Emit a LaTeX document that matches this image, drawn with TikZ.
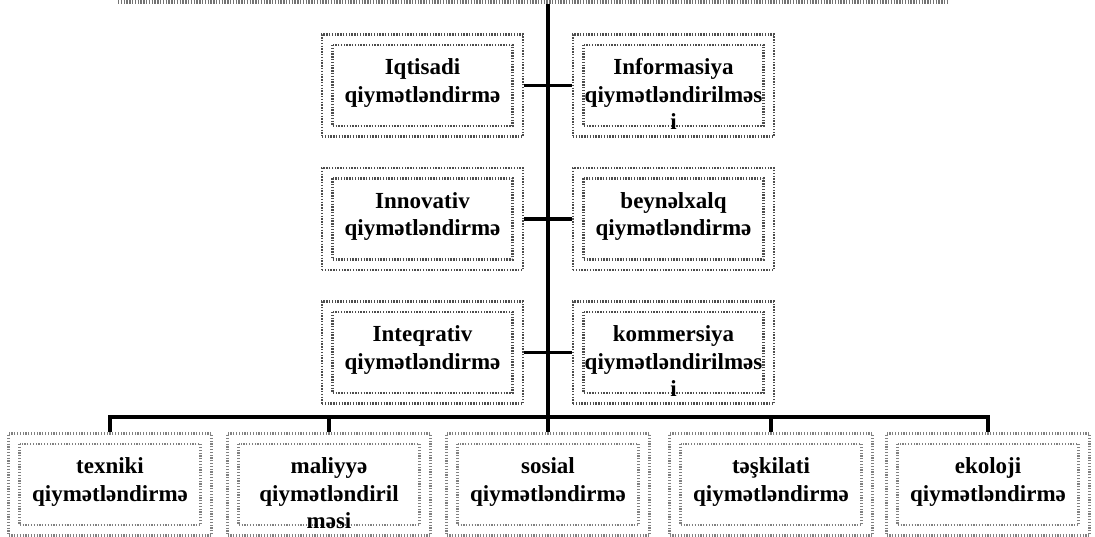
\documentclass[tikz,border=0pt]{standalone}
\usepackage{fontspec}
\setmainfont{Liberation Serif}
\newcommand\boxtxt[1]{\parbox[c][102pt][t]{201pt}{\centering\vspace*{21pt}\strut#1\par}}
\begin{document}
\begin{tikzpicture}[x=1pt,y=-1pt,
  topbox/.style={draw=black!70, line width=2.8pt, dash pattern=on 1.4pt off 1.4pt,
    inner sep=0pt, minimum width=201pt, minimum height=102pt,
    font=\fontsize{23}{27.5}\selectfont\bfseries,
    path picture={\draw[black!70, line width=2.8pt, dash pattern=on 1.4pt off 1.4pt]
      ([shift={(10.5pt,-10.5pt)}]path picture bounding box.north west) rectangle
      ([shift={(-10.5pt,10.5pt)}]path picture bounding box.south east);}},
  botbox/.style={draw=black!50, line width=2.4pt, dash pattern=on 1.2pt off 1.6pt,
    inner sep=0pt, minimum width=203pt, minimum height=102pt,
    font=\fontsize{23}{27.5}\selectfont\bfseries,
    path picture={\draw[black!50, line width=2.4pt, dash pattern=on 1.2pt off 1.6pt]
      ([shift={(11pt,-10.5pt)}]path picture bounding box.north west) rectangle
      ([shift={(-11pt,10.5pt)}]path picture bounding box.south east);}},
  conn/.style={line width=3.5pt, black},
  edgeline/.style={draw=black!55, line width=4pt, dash pattern=on 1.4pt off 1.4pt}
]
\useasboundingbox (0,0) rectangle (1095,537);
\fill[white] (0,0) rectangle (1095,537);

\draw[edgeline] (118,2) -- (948,2);
\coordinate (top) at (548,4);

\node[topbox] (iqt) at (422.5,85.5) {\boxtxt{Iqtisadi\\qiymətləndirmə}};
\node[topbox] (inf) at (673.5,85.5) {\boxtxt{Informasiya\\qiymətləndirilməs\\i}};
\node[topbox] (inn) at (422.5,219) {\boxtxt{Innovativ\\qiymətləndirmə}};
\node[topbox] (bey) at (673.5,219) {\boxtxt{beynəlxalq\\qiymətləndirmə}};
\node[topbox] (int) at (422.5,352.5) {\boxtxt{Inteqrativ\\qiymətləndirmə}};
\node[topbox] (kom) at (673.5,352.5) {\boxtxt{kommersiya\\qiymətləndirilməs\\i}};

\node[botbox] (tex) at (110,484.5) {\boxtxt{texniki\\qiymətləndirmə}};
\node[botbox] (mal) at (329,484.5) {\boxtxt{maliyyə\\qiymətləndiril\\məsi}};
\node[botbox] (sos) at (548,484.5) {\boxtxt{sosial\\qiymətləndirmə}};
\node[botbox] (tas) at (771,484.5) {\boxtxt{təşkilati\\qiymətləndirmə}};
\node[botbox] (eko) at (988,484.5) {\boxtxt{ekoloji\\qiymətləndirmə}};

\coordinate (bus) at (548,417);

\draw[conn] (top) -- (sos.north);
\draw[conn] (iqt.east) -- (iqt.east -| top);
\draw[conn] (inn.east) -- (inn.east -| top);
\draw[conn] (int.east) -- (int.east -| top);
\draw[conn] (inf.west) -- (inf.west -| top);
\draw[conn] (bey.west) -- (bey.west -| top);
\draw[conn] (kom.west) -- (kom.west -| top);

\draw[conn] (tex.north) -- (tex.north |- bus) -- (eko.north |- bus) -- (eko.north);
\draw[conn] (mal.north) -- (mal.north |- bus);
\draw[conn] (tas.north) -- (tas.north |- bus);
\end{tikzpicture}
\end{document}
